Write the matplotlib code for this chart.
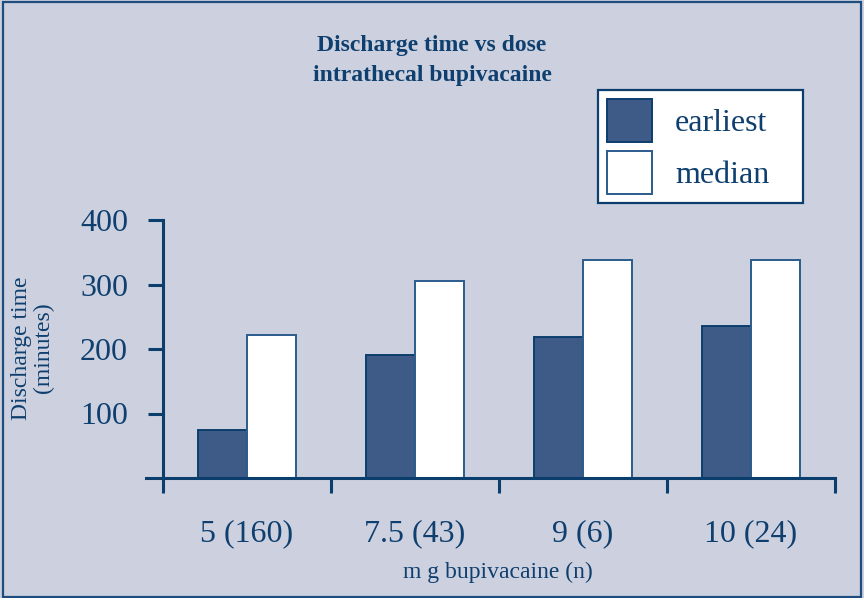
import matplotlib
matplotlib.use("Agg")
import matplotlib.pyplot as plt
import numpy as np
from matplotlib.patches import Rectangle

categories = ["5 (160)", "7.5 (43)", "9 (6)", "10 (24)"]
earliest = [75, 191, 219, 236]
median = [222, 306, 338, 338]
yticks = [100, 200, 300, 400]

BG = "#CDD1DF"
DARK = "#3E5A87"
NAVY = "#0C3E6D"
TXT = "#0E3F6E"

plt.rcParams['font.family'] = ['Liberation Serif', 'DejaVu Serif']

fig = plt.figure(figsize=(8.64, 5.98), dpi=100)
fig.patch.set_facecolor(BG)
fig.add_artist(Rectangle((0.004, 0.002), 0.992, 0.994, transform=fig.transFigure,
                         fill=False, edgecolor="#1F4E7E", linewidth=1.6))

ax = fig.add_axes([146/864, (598-478)/598, (835-146)/864, (478-220)/598])
ax.set_facecolor(BG)
x = np.arange(len(categories))
w = 0.29
ax.bar(x - w/2, earliest, w, color=DARK, edgecolor=NAVY, linewidth=1.4, label="earliest")
ax.bar(x + w/2, median, w, color="white", edgecolor="#2A5C8C", linewidth=1.4, label="median")

ax.set_xlim(-0.6, 3.5)
ax.set_ylim(0, 400)
for s in ["top", "right"]:
    ax.spines[s].set_visible(False)
ax.spines["left"].set_position(("data", -0.5))
ax.spines["left"].set_color(NAVY)
ax.spines["bottom"].set_color(NAVY)
ax.spines["left"].set_linewidth(2.2)
ax.spines["bottom"].set_linewidth(2.2)

ax.set_yticks(yticks)
ax.set_yticklabels([str(v) for v in yticks])
ax.tick_params(axis="y", length=11, width=2.2, color=NAVY, labelcolor=TXT, labelsize=23, pad=14)

ax.set_xticks(x)
ax.set_xticklabels(categories)
ax.tick_params(axis="x", which="major", length=0, labelcolor=TXT, labelsize=23, pad=30)
ax.set_xticks(np.arange(-0.5, 3.6, 1.0), minor=True)
ax.tick_params(axis="x", which="minor", length=11, width=2.2, color=NAVY)

fig.text(432/864, 1 - 45/598, "Discharge time vs dose", ha="center", va="center",
         fontsize=17, fontweight="bold", color=TXT)
fig.text(432/864, 1 - 75/598, "intrathecal bupivacaine", ha="center", va="center",
         fontsize=17, fontweight="bold", color=TXT)

fig.text(22/864, 1 - 348/598, "Discharge time", rotation=90, ha="center", va="center",
         fontsize=17, color=TXT)
fig.text(43/864, 1 - 348/598, "(minutes)", rotation=90, ha="center", va="center",
         fontsize=17, color=TXT)

fig.text(498/864, 1 - 572/598, "m g bupivacaine (n)", ha="center", va="center",
         fontsize=17, color=TXT)

leg = fig.legend(loc="upper left",
                 bbox_to_anchor=(598/864, (598-204)/598, (803-598)/864, (204-90)/598),
                 mode="expand", fontsize=23, frameon=True, fancybox=False,
                 handlelength=1.41, handleheight=1.7, handletextpad=0.72,
                 borderpad=0.28, labelspacing=0.28, borderaxespad=0.0)
leg.get_frame().set_edgecolor(NAVY)
leg.get_frame().set_linewidth(1.6)
leg.get_frame().set_facecolor("white")
leg.get_frame().set_alpha(1)
for t in leg.get_texts():
    t.set_color(TXT)

fig.savefig("out.png", dpi=100, facecolor=BG)
